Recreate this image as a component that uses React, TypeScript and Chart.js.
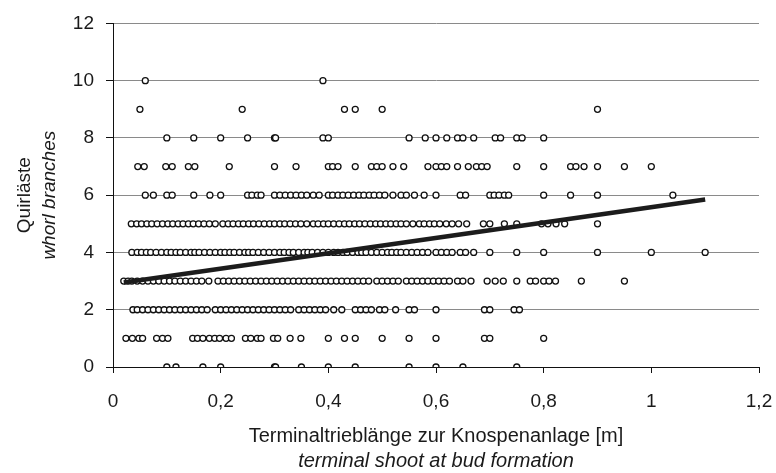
import React, { useEffect, useRef } from 'react';
import { Chart, registerables } from 'chart.js';

Chart.register(...registerables);

// Shoot length (x) values, grouped by whorl branch count (y)
const xAt0 = [0.1, 0.117, 0.167, 0.2, 0.3, 0.302, 0.35, 0.4, 0.45, 0.55, 0.6, 0.65, 0.75];
const xAt1 = [0.024, 0.036, 0.048, 0.055, 0.081, 0.092, 0.102, 0.148, 0.157, 0.167, 0.179, 0.189, 0.198, 0.21, 0.22, 0.246, 0.256, 0.268, 0.275, 0.298, 0.306, 0.329, 0.349, 0.4, 0.43, 0.45, 0.5, 0.55, 0.6, 0.69, 0.7, 0.8];
const xAt2 = [0.037, 0.045, 0.055, 0.065, 0.075, 0.085, 0.095, 0.105, 0.115, 0.125, 0.135, 0.145, 0.155, 0.165, 0.175, 0.19, 0.2, 0.21, 0.22, 0.23, 0.24, 0.25, 0.26, 0.27, 0.28, 0.29, 0.3, 0.31, 0.32, 0.33, 0.345, 0.355, 0.365, 0.375, 0.385, 0.395, 0.41, 0.425, 0.45, 0.46, 0.47, 0.48, 0.495, 0.505, 0.525, 0.55, 0.56, 0.6, 0.69, 0.7, 0.745, 0.755];
const xAt3 = [0.02, 0.028, 0.035, 0.045, 0.055, 0.065, 0.075, 0.085, 0.095, 0.105, 0.115, 0.125, 0.135, 0.145, 0.155, 0.165, 0.178, 0.195, 0.205, 0.215, 0.225, 0.235, 0.245, 0.255, 0.265, 0.275, 0.285, 0.295, 0.305, 0.315, 0.325, 0.335, 0.345, 0.355, 0.365, 0.375, 0.385, 0.395, 0.405, 0.415, 0.425, 0.435, 0.445, 0.455, 0.465, 0.475, 0.49, 0.5, 0.51, 0.52, 0.53, 0.545, 0.555, 0.565, 0.575, 0.585, 0.595, 0.605, 0.615, 0.625, 0.64, 0.65, 0.665, 0.695, 0.71, 0.725, 0.75, 0.775, 0.785, 0.8, 0.81, 0.822, 0.87, 0.95];
const xAt4 = [0.035, 0.045, 0.053, 0.062, 0.07, 0.08, 0.09, 0.1, 0.108, 0.117, 0.125, 0.135, 0.145, 0.152, 0.16, 0.17, 0.18, 0.19, 0.2, 0.208, 0.217, 0.225, 0.235, 0.245, 0.252, 0.26, 0.27, 0.28, 0.29, 0.3, 0.31, 0.318, 0.327, 0.335, 0.345, 0.355, 0.362, 0.37, 0.38, 0.39, 0.4, 0.41, 0.418, 0.427, 0.435, 0.445, 0.455, 0.462, 0.47, 0.48, 0.49, 0.5, 0.51, 0.518, 0.527, 0.535, 0.545, 0.555, 0.565, 0.575, 0.585, 0.6, 0.61, 0.62, 0.63, 0.645, 0.655, 0.67, 0.7, 0.75, 0.8, 0.9, 1.0, 1.1];
const xAt5 = [0.034, 0.044, 0.053, 0.063, 0.072, 0.082, 0.092, 0.102, 0.111, 0.121, 0.13, 0.14, 0.149, 0.159, 0.169, 0.179, 0.19, 0.204, 0.214, 0.223, 0.233, 0.242, 0.252, 0.261, 0.271, 0.281, 0.291, 0.3, 0.31, 0.319, 0.329, 0.339, 0.349, 0.36, 0.372, 0.381, 0.391, 0.4, 0.41, 0.42, 0.43, 0.439, 0.449, 0.458, 0.468, 0.478, 0.488, 0.497, 0.507, 0.516, 0.526, 0.535, 0.545, 0.557, 0.569, 0.578, 0.588, 0.597, 0.607, 0.619, 0.63, 0.642, 0.657, 0.688, 0.7, 0.727, 0.75, 0.796, 0.808, 0.823, 0.839, 0.9];
const xAt6 = [0.06, 0.075, 0.1, 0.11, 0.15, 0.18, 0.2, 0.25, 0.258, 0.268, 0.275, 0.3, 0.31, 0.32, 0.33, 0.34, 0.35, 0.36, 0.372, 0.383, 0.4, 0.408, 0.418, 0.427, 0.437, 0.447, 0.457, 0.466, 0.476, 0.485, 0.495, 0.505, 0.52, 0.535, 0.545, 0.56, 0.578, 0.6, 0.645, 0.655, 0.7, 0.708, 0.717, 0.727, 0.735, 0.8, 0.85, 0.9, 1.04];
const xAt7 = [0.046, 0.058, 0.098, 0.11, 0.14, 0.152, 0.216, 0.3, 0.34, 0.4, 0.408, 0.418, 0.45, 0.48, 0.49, 0.5, 0.52, 0.54, 0.585, 0.6, 0.61, 0.62, 0.64, 0.66, 0.675, 0.685, 0.695, 0.75, 0.8, 0.85, 0.86, 0.875, 0.9, 0.95, 1.0];
const xAt8 = [0.1, 0.15, 0.2, 0.25, 0.3, 0.302, 0.39, 0.4, 0.55, 0.58, 0.6, 0.62, 0.64, 0.65, 0.67, 0.71, 0.72, 0.75, 0.76, 0.8];
const xAt9 = [0.05, 0.24, 0.43, 0.45, 0.5, 0.9];
const xAt10 = [0.06, 0.39];

const rows: [number, number[]][] = [
  [0, xAt0], [1, xAt1], [2, xAt2], [3, xAt3], [4, xAt4], [5, xAt5],
  [6, xAt6], [7, xAt7], [8, xAt8], [9, xAt9], [10, xAt10],
];

// Linear trend line end points
const trendX = [0.02, 1.1];
const trendY = [2.95, 5.85];

const X_TITLE = 'Terminaltrieblänge zur Knospenanlage [m]';
const X_SUBTITLE = 'terminal shoot at bud formation';
const Y_TITLE = 'Quirläste';
const Y_SUBTITLE = 'whorl branches';

const FONT_FAMILY = '"Liberation Sans", Arial, sans-serif';
const TEXT_COLOR = '#1a1a1a';
const TICK_SIZE = 19;
const X_TITLE_SIZE = 20;
const Y_TITLE_SIZE = 19;

const titlePlugin = {
  id: 'axisTitles',
  afterDraw(chart: any) {
    const { ctx, chartArea } = chart;
    ctx.save();
    ctx.fillStyle = TEXT_COLOR;
    ctx.textAlign = 'center';
    ctx.textBaseline = 'middle';
    const cx = (chartArea.left + chartArea.right) / 2;
    const h = chart.height;
    ctx.font = `${X_TITLE_SIZE}px ${FONT_FAMILY}`;
    ctx.fillText(X_TITLE, cx, h - 37);
    ctx.font = `italic ${X_TITLE_SIZE}px ${FONT_FAMILY}`;
    ctx.fillText(X_SUBTITLE, cx, h - 12);
    const cy = (chartArea.top + chartArea.bottom) / 2;
    ctx.translate(25, cy);
    ctx.rotate(-Math.PI / 2);
    ctx.font = `${Y_TITLE_SIZE}px ${FONT_FAMILY}`;
    ctx.fillText(Y_TITLE, 0, 0);
    ctx.font = `italic ${Y_TITLE_SIZE}px ${FONT_FAMILY}`;
    ctx.fillText(Y_SUBTITLE, 0, 25);
    ctx.restore();
  },
};

export default function App() {
  const ref = useRef<HTMLCanvasElement | null>(null);

  useEffect(() => {
    document.body.style.margin = '0';
    const canvas = ref.current;
    if (!canvas) return;

    const points: { x: number; y: number }[] = [];
    rows.forEach(([y, xs]) => xs.forEach((x) => points.push({ x, y })));
    const trend = trendX.map((x, i) => ({ x, y: trendY[i] }));

    const chart = new Chart(canvas, {
      type: 'scatter',
      data: {
        datasets: [
          {
            type: 'line',
            data: trend,
            borderColor: '#1c1c1c',
            borderWidth: 4.5,
            pointRadius: 0,
            fill: false,
            order: 0,
          } as any,
          {
            data: points,
            pointRadius: 3,
            pointBorderWidth: 1.3,
            pointBackgroundColor: '#ffffff',
            pointBorderColor: '#111111',
            order: 1,
          },
        ],
      },
      options: {
        responsive: false,
        animation: false,
        layout: { padding: { top: 19, right: 17, left: 0, bottom: 0 } },
        plugins: {
          legend: { display: false },
          tooltip: { enabled: false },
        },
        scales: {
          x: {
            type: 'linear',
            min: 0,
            max: 1.2,
            afterFit: (s: any) => {
              s.height = 106;
              s.paddingLeft = 0;
              s.paddingRight = 0;
            },
            ticks: {
              stepSize: 0.2,
              color: TEXT_COLOR,
              font: { family: FONT_FAMILY, size: TICK_SIZE },
              padding: 17,
              maxRotation: 0,
              callback: (v: any) => String(Math.round(Number(v) * 10) / 10).replace('.', ','),
            },
            grid: {
              drawOnChartArea: false,
              drawTicks: true,
              tickLength: 6,
              tickColor: '#111111',
            },
            border: { display: true, color: '#111111', width: 1 },
          },
          y: {
            type: 'linear',
            min: 0,
            max: 12,
            afterFit: (s: any) => { s.width = 113; },
            ticks: {
              stepSize: 2,
              color: TEXT_COLOR,
              font: { family: FONT_FAMILY, size: TICK_SIZE },
              padding: 12,
            },
            grid: {
              color: (c: any) => (c.tick && c.tick.value === 0 ? '#111111' : '#8a8a8a'),
              lineWidth: 1,
              drawTicks: true,
              tickLength: 7,
              tickColor: '#111111',
            },
            border: { display: true, color: '#111111', width: 1 },
          },
        },
      },
      plugins: [titlePlugin],
    });

    return () => chart.destroy();
  }, []);

  return (
    <div style={{ width: 776, height: 473 }}>
      <canvas ref={ref} width={776} height={473} style={{ display: 'block' }} />
    </div>
  );
}
